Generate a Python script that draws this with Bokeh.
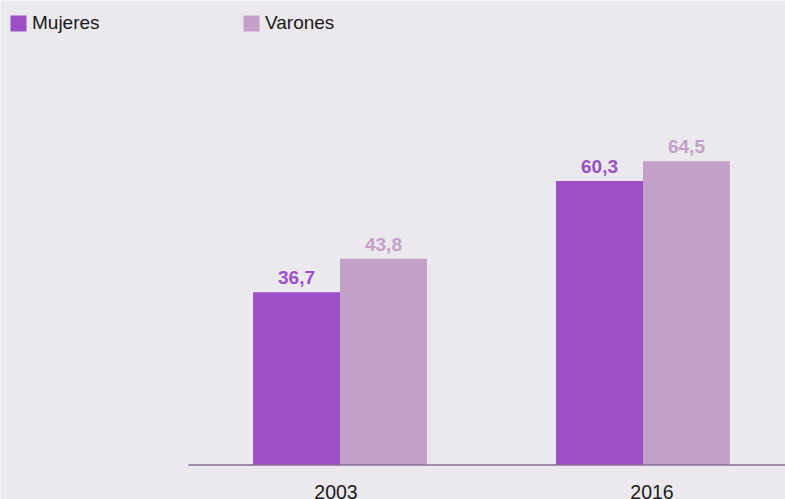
from bokeh.plotting import figure
from bokeh.models import ColumnDataSource, Range1d, Legend, LegendItem
from bokeh.core.properties import value
from bokeh.embed import file_html
from bokeh.resources import INLINE

# ---- data ----
years = ["2003", "2016"]
series_names = ["Mujeres", "Varones"]
mujeres = [36.7, 60.3]
varones = [43.8, 64.5]

# ---- style ----
BG = "#ebe8ee"
COL_M = "#9b50c5"
COL_V = "#c4a0c8"
TXT = "#1a1a1a"
AXIS_COL = "#8a6c96"
FONT = "Liberation Sans"

W, H = 785, 499
px_x = 303.0      # pixels per category
left_px = 188.0   # pixel where category range starts
px_y = 4.71       # pixels per unit
base_px = 464.5   # baseline pixel from top

x_start = -left_px / px_x
x_end = x_start + W / px_x
y_end = base_px / px_y
y_start = -(H - base_px) / px_y

bar_w = 0.287
centers = [i + 0.5 for i in range(len(years))]
xm = [c - bar_w / 2 for c in centers]
xv = [c + bar_w / 2 for c in centers]

fmt = lambda v: f"{v:.1f}".replace(".", ",")

src_m = ColumnDataSource(dict(x=xm, top=mujeres, lab=[fmt(v) for v in mujeres]))
src_v = ColumnDataSource(dict(x=xv, top=varones, lab=[fmt(v) for v in varones]))
year_nudge = [-4, 9]
src_y = ColumnDataSource(dict(x=centers, y=[0] * len(years), t=years, dx=year_nudge))

p = figure(width=W, height=H, x_range=Range1d(x_start, x_end), y_range=Range1d(y_start, y_end),
           x_axis_type=None, y_axis_type=None, toolbar_location=None, output_backend="svg",
           min_border=0, outline_line_color=None,
           background_fill_color=BG, border_fill_color=BG)

rm = p.vbar(x="x", top="top", bottom=0, width=bar_w, source=src_m, fill_color=COL_M, line_color=None)
rv = p.vbar(x="x", top="top", bottom=0, width=bar_w, source=src_v, fill_color=COL_V, line_color=None)

p.segment(x0=0, y0=0, x1=len(years), y1=0, line_color=AXIS_COL, line_width=1.6)

p.text(x="x", y="top", text="lab", source=src_m, text_align="center", text_baseline="alphabetic",
       y_offset=-14.5, text_font=value(FONT), text_font_size="19px", text_font_style="bold",
       text_color=COL_M)
p.text(x="x", y="top", text="lab", source=src_v, text_align="center", text_baseline="alphabetic",
       y_offset=-14.5, text_font=value(FONT), text_font_size="19px", text_font_style="bold",
       text_color=COL_V)

p.text(x="x", y="y", text="t", source=src_y, x_offset="dx", y_offset=26.5, text_align="center",
       text_baseline="alphabetic", text_font=value(FONT), text_font_size="19.5px", text_color=TXT)

legend = Legend(items=[LegendItem(label=series_names[0], renderers=[rm]),
                       LegendItem(label=series_names[1], renderers=[rv])],
                orientation="horizontal", location=(8, 465),
                glyph_width=20, glyph_height=20, label_standoff=4, label_width=209,
                spacing=0, padding=0, margin=0, border_line_color=None, background_fill_alpha=0,
                label_text_font=FONT, label_text_font_size="19px", label_text_color=TXT)
p.add_layout(legend, "center")

open("out.html", "w").write(file_html(p, INLINE))
